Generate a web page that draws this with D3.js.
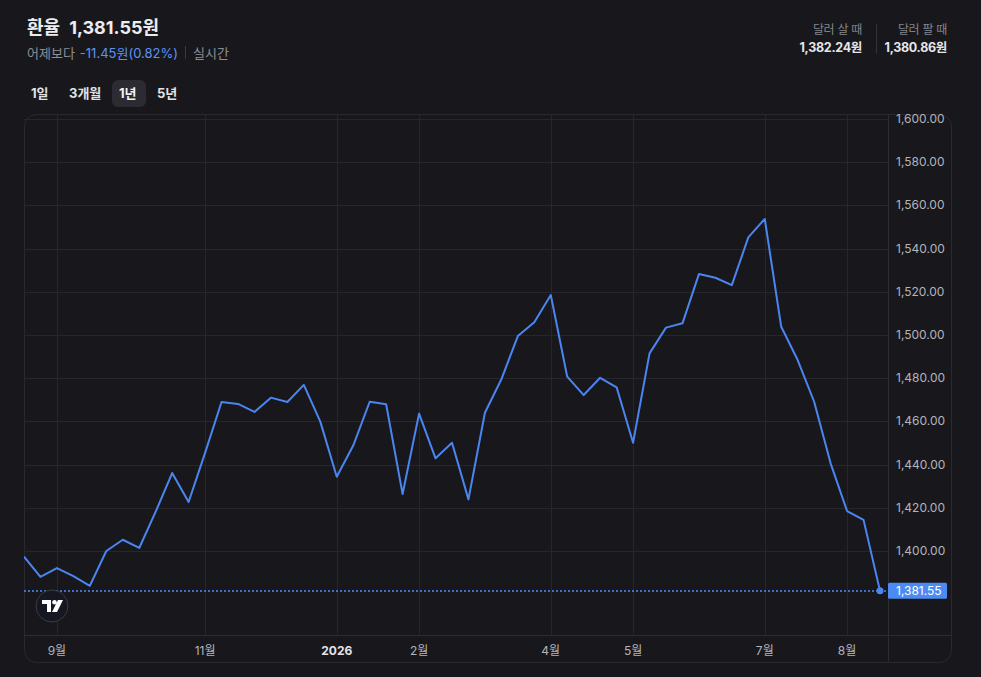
<!DOCTYPE html>
<html lang="ko">
<head>
<meta charset="UTF-8">
<title>환율</title>
<style>
  html, body { margin: 0; padding: 0; background: #18181c; }
  svg { display: block; }
  text { font-family: Inter, "Noto Sans CJK KR", "Noto Sans", sans-serif; }
</style>
</head>
<body>
<svg id="chart"></svg>
<script src="https://cdn.jsdelivr.net/npm/d3@7/dist/d3.min.js"></script>
<script>
  // weekly closes, one year
  const dates = [
    '2025-08-21', '2025-08-28', '2025-09-04', '2025-09-11', '2025-09-18', '2025-09-25',
    '2025-10-02', '2025-10-09', '2025-10-16', '2025-10-23', '2025-10-30', '2025-11-06',
    '2025-11-13', '2025-11-20', '2025-11-27', '2025-12-04', '2025-12-11', '2025-12-18',
    '2025-12-25', '2026-01-01', '2026-01-08', '2026-01-15', '2026-01-22', '2026-01-29',
    '2026-02-05', '2026-02-12', '2026-02-19', '2026-02-26', '2026-03-05', '2026-03-12',
    '2026-03-19', '2026-03-26', '2026-04-02', '2026-04-09', '2026-04-16', '2026-04-23',
    '2026-04-30', '2026-05-07', '2026-05-14', '2026-05-21', '2026-05-28', '2026-06-04',
    '2026-06-11', '2026-06-18', '2026-06-25', '2026-07-02', '2026-07-09', '2026-07-16',
    '2026-07-23', '2026-07-30', '2026-08-06', '2026-08-13', '2026-08-20'
  ];
  const rates = [
    1397.4, 1388.0, 1392.1, 1388.4, 1383.9, 1400.0,
    1405.2, 1401.4, 1418.2, 1436.1, 1422.7, 1445.4,
    1469.0, 1468.1, 1464.4, 1471.0, 1469.0, 1476.9,
    1459.9, 1434.4, 1448.8, 1469.1, 1467.9, 1426.4,
    1463.6, 1442.9, 1450.1, 1423.9, 1464.0, 1479.5,
    1499.5, 1505.9, 1518.5, 1480.7, 1472.2, 1480.2,
    1475.8, 1450.1, 1491.5, 1503.4, 1505.4, 1528.2,
    1526.5, 1523.1, 1545.2, 1553.7, 1503.8, 1488.4,
    1469.1, 1440.6, 1418.5, 1414.4, 1381.55
  ];
  const xTickDates = ['2025-09-04', '2025-11-06', '2026-01-01', '2026-02-05', '2026-04-02', '2026-05-07', '2026-07-02', '2026-08-06'];
  const xTickLabels = ['9월', '11월', '2026', '2월', '4월', '5월', '7월', '8월'];
  const yTicks = [1400, 1420, 1440, 1460, 1480, 1500, 1520, 1540, 1560, 1580, 1600];

  const current = 1381.55;
  const change = '-11.45원(0.82%)';
  const buyPrice = '1,382.24원';
  const sellPrice = '1,380.86원';
  const ranges = ['1일', '3개월', '1년', '5년'];
  const activeRange = '1년';

  const W = 981, H = 677;
  const frame = { x0: 24, y0: 114, x1: 952, y1: 663 };
  const plot = { x0: 24, x1: 888, y0: 114, y1: 635 };
  const lineColor = '#4a85f0';
  const gridColor = '#26262c';
  const labelColor = '#b4b4bc';

  const parse = d3.timeParse('%Y-%m-%d');
  const data = dates.map((d, i) => ({ date: parse(d), value: rates[i] }));

  const svg = d3.select('#chart').attr('width', W).attr('height', H);
  svg.append('rect').attr('width', W).attr('height', H).attr('fill', '#18181c');

  // header
  const head = svg.append('text').attr('x', 27).attr('y', 34)
    .attr('font-size', 18).attr('font-weight', 700).attr('fill', '#ececef');
  head.append('tspan').text('환율');
  head.append('tspan').attr('dx', 9).text(d3.format(',.2f')(current) + '원');

  const sub = svg.append('text').attr('x', 27).attr('y', 58).attr('font-size', 13);
  sub.append('tspan').attr('fill', '#8d8d96').text('어제보다');
  sub.append('tspan').attr('dx', 5).attr('fill', '#5b93f5').text(change);
  svg.append('line').attr('x1', 185.5).attr('x2', 185.5).attr('y1', 46).attr('y2', 59)
    .attr('stroke', '#3a3a42');
  svg.append('text').attr('x', 193).attr('y', 58).attr('font-size', 13)
    .attr('fill', '#8d8d96').text('실시간');

  // range buttons
  const btnX = [31, 69, 119, 157];
  svg.append('rect').attr('x', 112).attr('y', 80).attr('width', 34).attr('height', 27)
    .attr('rx', 6).attr('fill', '#2b2b31');
  ranges.forEach((r, i) => {
    svg.append('text').attr('x', btnX[i]).attr('y', 98).attr('font-size', 13)
      .attr('font-weight', 700).attr('fill', r === activeRange ? '#f2f2f4' : '#e2e2e6').text(r);
  });

  // buy / sell
  const rightInfo = [
    { label: '달러 살 때', value: buyPrice, x: 862 },
    { label: '달러 팔 때', value: sellPrice, x: 947 }
  ];
  rightInfo.forEach(d => {
    svg.append('text').attr('x', d.x).attr('y', 34).attr('text-anchor', 'end')
      .attr('font-size', 12).attr('letter-spacing', -0.3).attr('fill', '#85858e').text(d.label);
    svg.append('text').attr('x', d.x).attr('y', 52).attr('text-anchor', 'end')
      .attr('font-size', 12.5).attr('font-weight', 700).attr('letter-spacing', -0.3)
      .attr('fill', '#e6e6ea').text(d.value);
  });
  svg.append('line').attr('x1', 876.5).attr('x2', 876.5).attr('y1', 24).attr('y2', 54)
    .attr('stroke', '#33333a');

  // scales
  const x = d3.scaleTime()
    .domain(d3.extent(data, d => d.date))
    .range([24, 880]);
  const y = d3.scaleLinear().domain([1400, 1600]).range([551, 119]);

  svg.append('defs').append('clipPath').attr('id', 'plotclip')
    .append('rect').attr('x', plot.x0).attr('y', plot.y0)
    .attr('width', plot.x1 - plot.x0).attr('height', plot.y1 - plot.y0);

  // frame
  svg.append('rect').attr('x', frame.x0 + 0.5).attr('y', frame.y0 + 0.5)
    .attr('width', frame.x1 - frame.x0 - 1).attr('height', frame.y1 - frame.y0 - 1)
    .attr('rx', 12).attr('fill', '#18181c').attr('stroke', '#29292f');

  const g = svg.append('g').attr('clip-path', 'url(#plotclip)');

  // grid
  g.selectAll('.hgrid').data(yTicks).enter().append('line')
    .attr('x1', plot.x0).attr('x2', plot.x1)
    .attr('y1', d => Math.round(y(d)) + 0.5).attr('y2', d => Math.round(y(d)) + 0.5)
    .attr('stroke', gridColor);
  g.selectAll('.vgrid').data(xTickDates).enter().append('line')
    .attr('x1', d => Math.round(x(parse(d))) + 0.5).attr('x2', d => Math.round(x(parse(d))) + 0.5)
    .attr('y1', plot.y0).attr('y2', plot.y1)
    .attr('stroke', gridColor);

  // axes separators
  svg.append('line').attr('x1', plot.x0).attr('x2', frame.x1 - 1)
    .attr('y1', plot.y1 + 0.5).attr('y2', plot.y1 + 0.5).attr('stroke', '#2c2c33');
  svg.append('line').attr('x1', plot.x1 + 0.5).attr('x2', plot.x1 + 0.5)
    .attr('y1', frame.y0 + 1).attr('y2', frame.y1 - 1).attr('stroke', '#2c2c33');

  // last price dotted line
  g.append('line').attr('x1', plot.x0).attr('x2', plot.x1)
    .attr('y1', Math.round(y(current))).attr('y2', Math.round(y(current)))
    .attr('stroke', '#4f8cf7').attr('stroke-width', 1.5)
    .attr('stroke-dasharray', '2,2');

  // series
  const line = d3.line().x(d => x(d.date)).y(d => y(d.value));
  g.append('path').datum(data)
    .attr('d', line).attr('fill', 'none')
    .attr('stroke', lineColor).attr('stroke-width', 2)
    .attr('stroke-linejoin', 'round');

  const last = data[data.length - 1];
  g.append('circle').attr('cx', x(last.date)).attr('cy', y(last.value))
    .attr('r', 3.5).attr('fill', lineColor);

  // y axis labels
  svg.selectAll('.ylab').data(yTicks).enter().append('text')
    .attr('x', 896).attr('y', d => y(d) + 4)
    .attr('font-family', 'Roboto, sans-serif').attr('font-size', 12)
    .attr('fill', labelColor).text(d => d3.format(',.2f')(d));

  // last price tag
  svg.append('rect').attr('x', 888).attr('y', y(current) - 8)
    .attr('width', 59).attr('height', 16).attr('rx', 1.5).attr('fill', '#4c8bf5');
  svg.append('text').attr('x', 896).attr('y', y(current) + 4.5)
    .attr('font-family', 'Roboto, sans-serif').attr('font-size', 12)
    .attr('fill', '#ffffff').text(d3.format(',.2f')(current));

  // x axis labels
  svg.selectAll('.xlab').data(xTickDates).enter().append('text')
    .attr('x', d => x(parse(d))).attr('y', 655)
    .attr('text-anchor', 'middle').attr('font-size', 12)
    .attr('font-weight', (d, i) => xTickLabels[i] === '2026' ? 700 : 400)
    .attr('fill', (d, i) => xTickLabels[i] === '2026' ? '#e4e4e8' : labelColor)
    .text((d, i) => xTickLabels[i]);

  // tradingview badge
  const logo = svg.append('g').attr('transform', 'translate(52,606)');
  logo.append('circle').attr('r', 16).attr('fill', '#151722').attr('stroke', '#3b3b44');
  logo.append('path').attr('d', 'M-10,-6 H-1 V6 H-5 V-2 H-10 Z').attr('fill', '#ffffff');
  logo.append('circle').attr('cx', 2.5).attr('cy', -3.7).attr('r', 2.3).attr('fill', '#ffffff');
  logo.append('path').attr('d', 'M6,-6 H11 L5,6 H0 Z').attr('fill', '#ffffff');
</script>
</body>
</html>
